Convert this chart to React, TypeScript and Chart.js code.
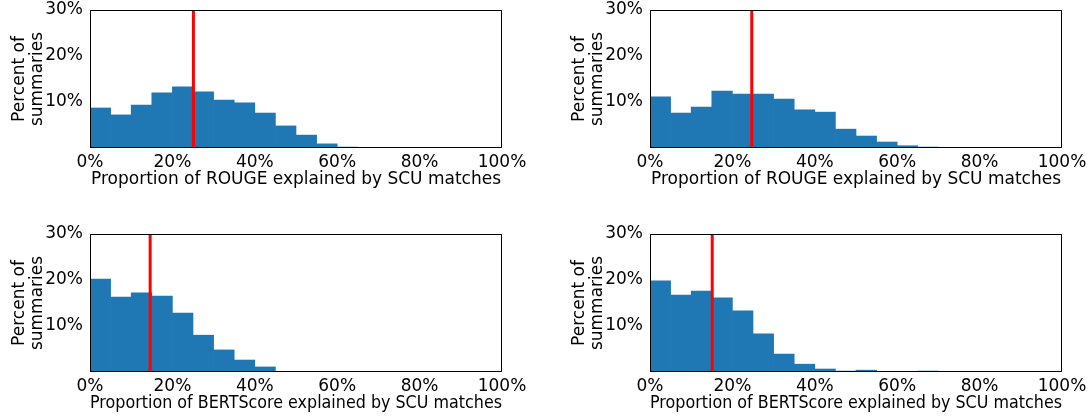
import React, { useEffect, useRef } from 'react';
import { Chart, registerables } from 'chart.js';

Chart.register(...registerables);

// Histogram bins: 5% wide, starting at these values
const binStarts = [0, 5, 10, 15, 20, 25, 30, 35, 40, 45, 50, 55, 60, 65, 70, 75, 80, 85, 90, 95];

// Percent of summaries in each bin
const rougeLeft = [8.7, 7.2, 9.35, 12.0, 13.3, 12.2, 10.4, 9.8, 7.6, 4.8, 2.8, 0.9, 0.2, 0, 0, 0, 0, 0, 0, 0];
const rougeRight = [11.1, 7.6, 8.9, 12.4, 11.7, 11.7, 10.65, 8.3, 7.8, 4.1, 2.6, 1.3, 0.5, 0.2, 0, 0, 0, 0, 0, 0];
const bertLeft = [20.2, 16.3, 17.2, 16.5, 12.8, 8.0, 4.8, 2.6, 1.1, 0, 0, 0, 0, 0, 0, 0, 0, 0, 0, 0];
const bertRight = [19.8, 16.7, 17.6, 16.1, 13.3, 8.3, 3.9, 1.7, 0.65, 0.2, 0.4, 0.15, 0.05, 0.2, 0.1, 0.1, 0.1, 0.1, 0.05, 0.05];

// Mean (red vertical line) of each panel
const meanRougeLeft = 25.1;
const meanRougeRight = 24.7;
const meanBertLeft = 14.6;
const meanBertRight = 15.1;

const xTitleRouge = 'Proportion of ROUGE explained by SCU matches';
const xTitleBert = 'Proportion of BERTScore explained by SCU matches';
const yTitle = ['Percent of', 'summaries'];
const xTicks = [0, 20, 40, 60, 80, 100];
const yTicks = [10, 20, 30];

const FONT = 'DejaVu Sans';
const FONT_SIZE = 17;

const boxPlugin = {
  id: 'boxSpines',
  afterDraw(chart: any) {
    const { ctx, chartArea } = chart;
    const l = Math.round(chartArea.left) + 0.5;
    const t = Math.round(chartArea.top) + 0.5;
    const r = Math.round(chartArea.right) - 0.5;
    const b = Math.round(chartArea.bottom) - 0.5;
    ctx.save();
    ctx.strokeStyle = '#000000';
    ctx.lineWidth = 1;
    ctx.strokeRect(l, t, r - l, b - t);
    ctx.restore();
  },
};

type PanelProps = {
  values: number[];
  mean: number;
  xTitle: string;
  left: number;
  top: number;
  width: number;
  rightPad: number;
};

function Panel({ values, mean, xTitle, left, top, width, rightPad }: PanelProps) {
  const ref = useRef<HTMLCanvasElement>(null);
  useEffect(() => {
    if (!ref.current) return;
    const chart = new Chart(ref.current, {
      type: 'bar',
      data: {
        datasets: [
          {
            type: 'line',
            data: [
              { x: mean, y: 0 },
              { x: mean, y: 30 },
            ],
            borderColor: '#ff0000',
            borderWidth: 3,
            pointRadius: 0,
            order: 0,
          } as any,
          {
            type: 'bar',
            data: binStarts.map((s, i) => ({ x: s + 2.5, y: values[i] })),
            backgroundColor: '#1f77b4',
            borderWidth: 0,
            barPercentage: 1,
            categoryPercentage: 1,
            order: 1,
          } as any,
        ],
      },
      options: {
        animation: false,
        responsive: false,
        maintainAspectRatio: false,
        layout: { padding: { top: 10, left: 0, right: rightPad, bottom: 0 } },
        plugins: { legend: { display: false }, tooltip: { enabled: false } },
        scales: {
          x: {
            type: 'linear',
            offset: false,
            min: 0,
            max: 100,
            grid: { display: false, drawTicks: false },
            border: { display: false },
            afterBuildTicks: (scale: any) => {
              scale.ticks = xTicks.map((v) => ({ value: v }));
            },
            afterFit: (scale: any) => {
              scale.height = 52;
              scale.paddingLeft = 0;
              scale.paddingRight = 0;
            },
            ticks: {
              padding: 4,
              color: '#000',
              font: { family: FONT, size: FONT_SIZE },
              maxRotation: 0,
              autoSkip: false,
              callback: (v: any) => v + '%',
            },
            title: {
              display: true,
              text: xTitle,
              color: '#000',
              font: { family: FONT, size: FONT_SIZE },
              padding: { top: 0, bottom: 10 },
            },
          },
          y: {
            type: 'linear',
            min: 0,
            max: 30,
            grid: { display: false, drawTicks: false },
            border: { display: false },
            afterBuildTicks: (scale: any) => {
              scale.ticks = yTicks.map((v) => ({ value: v }));
            },
            afterFit: (scale: any) => {
              scale.width = 90;
              scale.paddingTop = 0;
              scale.paddingBottom = 0;
            },
            ticks: {
              padding: 7,
              color: '#000',
              font: { family: FONT, size: FONT_SIZE },
              callback: (v: any) => v + '%',
            },
            title: {
              display: true,
              text: yTitle,
              color: '#000',
              font: { family: FONT, size: FONT_SIZE, lineHeight: 1.05 },
              padding: { top: 11, bottom: 0 },
            },
          },
        },
      },
      plugins: [boxPlugin],
    });
    return () => chart.destroy();
  }, [values, mean, xTitle, rightPad]);

  return (
    <canvas
      ref={ref}
      width={width}
      height={200}
      style={{ position: 'absolute', left, top, width, height: 200 }}
    />
  );
}

export default function App() {
  return (
    <div
      style={{
        position: 'fixed',
        left: 0,
        top: 0,
        width: 1092,
        height: 417,
        background: '#ffffff',
        overflow: 'hidden',
      }}
    >
      <Panel values={rougeLeft} mean={meanRougeLeft} xTitle={xTitleRouge} left={0} top={0} width={546} rightPad={44} />
      <Panel values={rougeRight} mean={meanRougeRight} xTitle={xTitleRouge} left={560} top={0} width={532} rightPad={30} />
      <Panel values={bertLeft} mean={meanBertLeft} xTitle={xTitleBert} left={0} top={224} width={546} rightPad={44} />
      <Panel values={bertRight} mean={meanBertRight} xTitle={xTitleBert} left={560} top={224} width={532} rightPad={30} />
    </div>
  );
}
